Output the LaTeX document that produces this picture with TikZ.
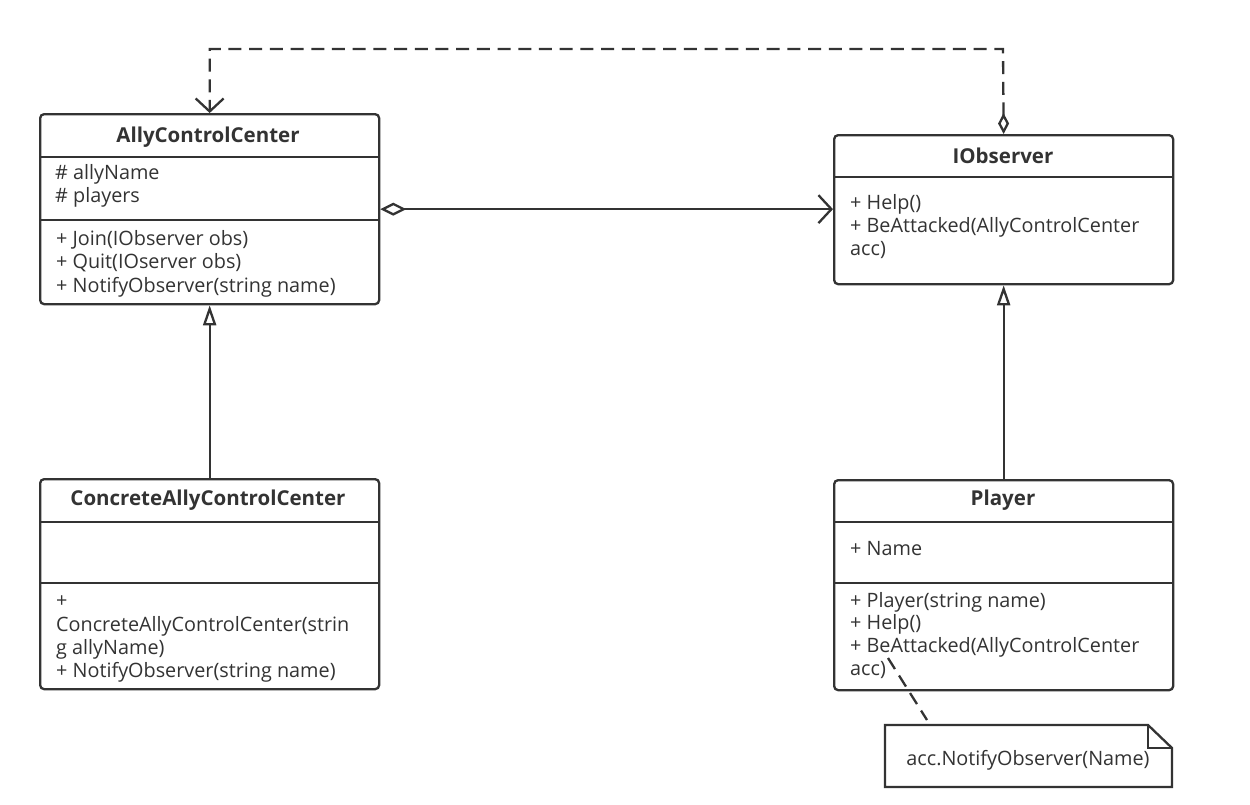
\documentclass[tikz,border=0pt]{standalone}
\usepackage{fontspec}
\setmainfont{Open Sans}
\usetikzlibrary{arrows.meta}
\definecolor{ink}{HTML}{333333}
\begin{document}
\begin{tikzpicture}[x=1pt,y=-1pt,
  cls/.style={draw=ink, line width=2.3pt, rounded corners=4pt, anchor=north west, inner sep=0pt},
  sep/.style={draw=ink, line width=2.3pt},
  ttl/.style={text=ink, font=\fontsize{20.5}{24}\selectfont\bfseries, inner sep=0pt},
  txt/.style={text=ink, font=\fontsize{19.8}{24}\selectfont, anchor=west, inner sep=0pt},
  conn/.style={draw=ink, line width=2.3pt},
  dashedconn/.style={conn, dash pattern=on 13pt off 7.7pt},
  vtip/.tip={Straight Barb[length=13pt,width=28pt,line width=2.3pt]},
  dtip/.tip={Diamond[open,length=26pt,width=13pt,line width=2.3pt]},
  dtipS/.tip={Diamond[open,length=21pt,width=11pt,line width=2.3pt]},
  ttip/.tip={Triangle[open,length=20pt,width=13pt,line width=2.3pt]}
]
\path[use as bounding box, fill=white] (0,0) rectangle (1250,804);

% AllyControlCenter
\node[cls, minimum width=339pt, minimum height=190pt] (acc) at (39,113) {};
\draw[sep] (39,157) -- (378,157);
\draw[sep] (39,220) -- (378,220);
\node[ttl] (accT) at (208,137) {AllyControlCenter};
\node[txt] (acc1) at (55,174) {\# allyName};
\node[txt] (acc2) at (55,197) {\# players};
\node[txt] (acc3) at (56,240) {+ Join(IObserver obs)};
\node[txt] (acc4) at (56,263) {+ Quit(IOserver obs)};
\node[txt] (acc5) at (56,287) {+ NotifyObserver(string name)};

% IObserver
\node[cls, minimum width=339pt, minimum height=149pt] (iob) at (833,134) {};
\draw[sep] (833,177) -- (1172,177);
\node[ttl] (iobT) at (1003,156) {IObserver};
\node[txt] (iob1) at (850,204) {+ Help()};
\node[txt] (iob2) at (850,227) {+ BeAttacked(AllyControlCenter};
\node[txt] (iob3) at (850,250) {acc)};

% ConcreteAllyControlCenter
\node[cls, minimum width=339pt, minimum height=210pt] (cac) at (39,478) {};
\draw[sep] (39,522) -- (378,522);
\draw[sep] (39,583) -- (378,583);
\node[ttl] (cacT) at (208,500) {ConcreteAllyControlCenter};
\node[txt] (cac1) at (56,602) {+};
\node[txt] (cac2) at (56,626) {ConcreteAllyControlCenter(strin};
\node[txt] (cac3) at (56,649) {g allyName)};
\node[txt] (cac4) at (56,672) {+ NotifyObserver(string name)};

% Player
\node[cls, minimum width=339pt, minimum height=210pt] (ply) at (833,479) {};
\draw[sep] (833,522) -- (1172,522);
\draw[sep] (833,583) -- (1172,583);
\node[ttl] (plyT) at (1003,500) {Player};
\node[txt] (ply1) at (850,549) {+ Name};
\node[txt] (ply2) at (850,602) {+ Player(string name)};
\node[txt] (ply3) at (850,624) {+ Help()};
\node[txt] (ply4) at (850,647) {+ BeAttacked(AllyControlCenter};
\node[txt] (ply5) at (850,670) {acc)};

% Note
\node[inner sep=0pt, minimum width=287pt, minimum height=62pt, anchor=north west] (note) at (885,725) {};
\draw[sep, line join=miter] (885,725) -- (1148,725) -- (1172,748) -- (1172,787) -- (885,787) -- cycle;
\draw[sep, line join=miter] (1148,725) -- (1148,748) -- (1172,748);
\node[txt, anchor=center] (noteT) at (1028,760) {acc.NotifyObserver(Name)};

% connectors
\draw[dashedconn, {dtipS}-{vtip}] (iob.north) -- (1003,49) -| (acc.north);
\draw[conn, {dtip}-{vtip}] (acc.east) -- (acc.east -| iob.west);
\draw[conn, -{ttip}] (cac.north) -- (acc.south);
\draw[conn, -{ttip}] (ply.north) -- (iob.south);
\coordinate (lkA) at (888,658);
\coordinate (lkB) at (927,720);
\draw[dashedconn] (lkA) -- (lkB);
\end{tikzpicture}
\end{document}
